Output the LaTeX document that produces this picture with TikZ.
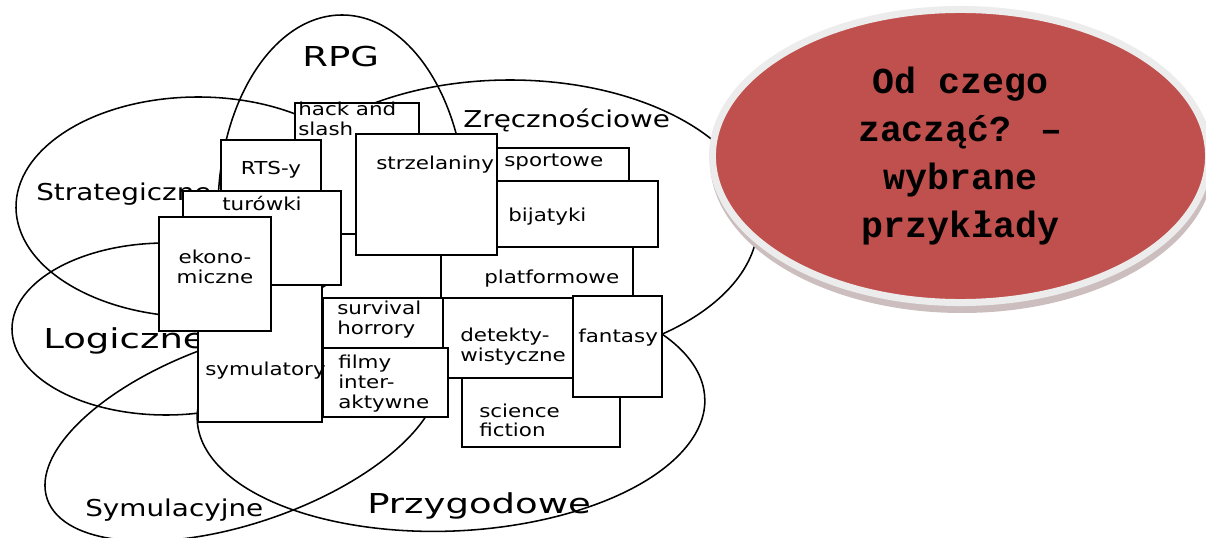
\documentclass[tikz,border=0pt]{standalone}
\usepackage{fontspec}
\newfontfamily\vennfont[FakeStretch = 1.35]{DejaVu Sans}
\newfontfamily\genrefont[FakeStretch = 1.2]{DejaVu Sans}
\newfontfamily\slidefont{Liberation Mono}
\usetikzlibrary{shapes.geometric}
\usetikzlibrary{fit}
\definecolor{SlideRed}{RGB}{192, 80, 77}
\definecolor{RimGray}{RGB}{236, 236, 236}
\definecolor{ShadowGray}{RGB}{204, 190, 190}
\colorlet{TitleFill}{SlideRed}

\begin{document}
\begin{tikzpicture}[
    x = 0.025cm,
    y = -0.025cm,
    venn/.style     = {line width = 1.1pt},
    genre/.style    = {draw, fill = white, line width = 1.3pt, inner sep = 0pt},
    gtext/.style    = {inner sep = 0pt, anchor = base west, font = \genrefont\fontsize{12.7}{13.9}\selectfont},
    biglabel/.style = {inner sep = 0pt, anchor = base west, font = \vennfont\fontsize{19.5}{23}\selectfont},
    midlabel/.style = {inner sep = 0pt, anchor = base west, font = \genrefont\fontsize{16.5}{19}\selectfont},
]
    \useasboundingbox (0,0) rectangle (1206,538);

    \coordinate (rpg)   at (342,210);
    \coordinate (strat) at (198,207);
    \coordinate (logic) at (166,329);
    \coordinate (simul) at (242,432);
    \coordinate (adv)   at (451,409);
    \coordinate (skill) at (510,222);

    % the genre sets
    \draw[venn] (rpg) ellipse [x radius = 124, y radius = 195];
    \draw[venn] ([shift = {(39:182 and 110)}]strat)
        arc [start angle = 39, end angle = 385, x radius = 182, y radius = 110];
    \draw[venn] (logic) ellipse [x radius = 154, y radius = 86];
    \begin{scope}[shift = {(simul)}, rotate = 19]
        \draw[venn] (0,0) ellipse [x radius = 206, y radius = 91];
    \end{scope}
    \begin{scope}[shift = {(adv)}, rotate = 2.5]
        \draw[venn] (-65.5:254 and 122)
            arc [start angle = -65.5, end angle = 245.5, x radius = 254, y radius = 122];
    \end{scope}
    \draw[venn] (skill) ellipse [x radius = 248, y radius = 142];

    \node[biglabel] (rpg-l)   at (302,67)  {RPG};
    \node[midlabel] (strat-l) at (36,201)  {Strategiczne};
    \node[biglabel] (logic-l) at (43,348)  {Logiczne};
    \node[midlabel] (simul-l) at (85,516)  {Symulacyjne};
    \node[biglabel] (adv-l)   at (367,513) {Przygodowe};
    \node[midlabel] (skill-l) at (463,128) {Zręcznościowe};

    % the games, back to front
    \node[genre, fit = {(295,103) (419,234)}] (hack) {};
    \node[gtext] (hack-t1) at (298,116) {hack and};
    \node[gtext] (hack-t2) at (298,135.5) {slash};

    \node[genre, fit = {(221,140) (321,200)}] (rts) {};
    \node[gtext, anchor = base] (rts-t) at (271,175) {RTS-y};

    \node[genre, fit = {(441,230) (633,300)}] (plat) {};
    \node[gtext] (plat-t) at (484,284) {platformowe};

    \node[genre, fit = {(470,148) (629,190)}] (sport) {};
    \node[gtext] (sport-t) at (504,167) {sportowe};

    \node[genre, fit = {(356,134) (497,255)}] (shoot) {};
    \node[gtext] (shoot-t) at (376,170) {strzelaniny};

    \node[genre, fit = {(497,181) (658,247)}] (fight) {};
    \node[gtext] (fight-t) at (508,222) {bijatyki};

    \node[genre, fit = {(462,370) (620,447)}] (scifi) {};
    \node[gtext] (scifi-t1) at (479,417) {science};
    \node[gtext] (scifi-t2) at (479,436.5) {fiction};

    \node[genre, fit = {(443,298) (573,378)}] (detect) {};
    \node[gtext] (detect-t1) at (460,342) {detekty-};
    \node[gtext] (detect-t2) at (460,361.5) {wistyczne};

    \node[genre, fit = {(573,296) (662,397)}] (fant) {};
    \node[gtext] (fant-t) at (578,343) {fantasy};

    \node[genre, fit = {(323,348) (448,417)}] (movie) {};
    \node[gtext] (movie-t1) at (338,369) {filmy};
    \node[gtext] (movie-t2) at (338,388.5) {inter-};
    \node[gtext] (movie-t3) at (338,408) {aktywne};

    \node[genre, fit = {(323,298) (443,348)}] (horror) {};
    \node[gtext] (horror-t1) at (337,315) {survival};
    \node[gtext] (horror-t2) at (337,334.5) {horrory};

    \node[genre, fit = {(198,270) (322,422)}] (sim) {};
    \node[gtext] (sim-t) at (205,375) {symulatory};

    \node[genre, fit = {(183,191) (341,285)}] (turn) {};
    \node[gtext, anchor = base] (turn-t) at (262,211) {turówki};

    \node[genre, fit = {(159,217) (271,331)}] (econ) {};
    \node[gtext, anchor = base] (econ-t1) at (215,264) {ekono-};
    \node[gtext, anchor = base] (econ-t2) at (215,283.5) {miczne};

    % the title bubble
    \fill[ShadowGray] (962,161) ellipse [x radius = 252, y radius = 152];
    \node[ellipse, draw = RimGray, fill = TitleFill, line width = 0.175cm, inner sep = 0pt,
          minimum width = 12.4cm, minimum height = 7.325cm, align = center,
          font = \slidefont\bfseries\fontsize{26}{34}\selectfont]
        (title) at (960.5,156) {Od czego\\zacząć? –\\wybrane\\przykłady};
\end{tikzpicture}
\end{document}
